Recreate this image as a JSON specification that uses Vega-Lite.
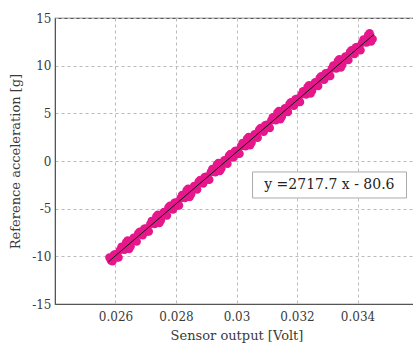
{
  "$schema": "https://vega.github.io/schema/vega-lite/v6.json",
  "width": 363,
  "height": 286,
  "autosize": {"type": "none"},
  "padding": {"left": 55, "top": 18, "right": 0, "bottom": 40},
  "background": "white",
  "config": {
    "view": {"stroke": "#555555", "strokeWidth": 1.2},
    "font": "DejaVu Serif",
    "axis": {
      "labelFont": "DejaVu Serif",
      "titleFont": "DejaVu Serif",
      "labelFontSize": 12,
      "titleFontSize": 13,
      "titleFontWeight": "normal",
      "labelColor": "#3a3a3a",
      "titleColor": "#3a3a3a",
      "domainColor": "#555555",
      "ticks": false,
      "gridColor": "#bbbbbb",
      "gridDash": [3, 3],
      "gridWidth": 1
    }
  },
  "datasets": {
    "pts": [
      {"v": 0.0258, "g": -10.13}, {"v": 0.0259, "g": -10.51}, {"v": 0.0260, "g": -9.79}, {"v": 0.0261, "g": -10.12},
      {"v": 0.0262, "g": -9.00}, {"v": 0.0263, "g": -9.32}, {"v": 0.0264, "g": -8.35}, {"v": 0.0265, "g": -8.93},
      {"v": 0.0266, "g": -8.06}, {"v": 0.0267, "g": -8.44}, {"v": 0.0268, "g": -7.42}, {"v": 0.0269, "g": -7.79},
      {"v": 0.0270, "g": -7.07}, {"v": 0.0271, "g": -7.40}, {"v": 0.0272, "g": -6.28}, {"v": 0.0273, "g": -6.61},
      {"v": 0.0274, "g": -5.64}, {"v": 0.0275, "g": -6.21}, {"v": 0.0276, "g": -5.34}, {"v": 0.0277, "g": -5.72},
      {"v": 0.0278, "g": -4.70}, {"v": 0.0279, "g": -5.08}, {"v": 0.0280, "g": -4.35}, {"v": 0.0281, "g": -4.68},
      {"v": 0.0282, "g": -3.56}, {"v": 0.0283, "g": -3.89}, {"v": 0.0284, "g": -2.92}, {"v": 0.0285, "g": -3.50},
      {"v": 0.0286, "g": -2.62}, {"v": 0.0287, "g": -3.00}, {"v": 0.0288, "g": -1.98}, {"v": 0.0289, "g": -2.36},
      {"v": 0.0290, "g": -1.64}, {"v": 0.0291, "g": -1.96}, {"v": 0.0292, "g": -0.84}, {"v": 0.0293, "g": -1.17},
      {"v": 0.0294, "g": -0.20}, {"v": 0.0295, "g": -0.78}, {"v": 0.0296, "g": 0.09}, {"v": 0.0297, "g": -0.28},
      {"v": 0.0298, "g": 0.74}, {"v": 0.0299, "g": 0.36}, {"v": 0.0300, "g": 1.08}, {"v": 0.0301, "g": 0.75},
      {"v": 0.0302, "g": 1.88}, {"v": 0.0303, "g": 1.55}, {"v": 0.0304, "g": 2.52}, {"v": 0.0305, "g": 1.94},
      {"v": 0.0306, "g": 2.81}, {"v": 0.0307, "g": 2.43}, {"v": 0.0308, "g": 3.46}, {"v": 0.0309, "g": 3.08},
      {"v": 0.0310, "g": 3.80}, {"v": 0.0311, "g": 3.47}, {"v": 0.0312, "g": 4.59}, {"v": 0.0313, "g": 4.27},
      {"v": 0.0314, "g": 5.24}, {"v": 0.0315, "g": 4.66}, {"v": 0.0316, "g": 5.53}, {"v": 0.0317, "g": 5.15},
      {"v": 0.0318, "g": 6.17}, {"v": 0.0319, "g": 5.80}, {"v": 0.0320, "g": 6.52}, {"v": 0.0321, "g": 6.19},
      {"v": 0.0322, "g": 7.31}, {"v": 0.0323, "g": 6.98}, {"v": 0.0324, "g": 7.95}, {"v": 0.0325, "g": 7.38},
      {"v": 0.0326, "g": 8.25}, {"v": 0.0327, "g": 7.87}, {"v": 0.0328, "g": 8.89}, {"v": 0.0329, "g": 8.51},
      {"v": 0.0330, "g": 9.24}, {"v": 0.0331, "g": 8.91}, {"v": 0.0332, "g": 10.03}, {"v": 0.0333, "g": 9.70},
      {"v": 0.0334, "g": 10.67}, {"v": 0.0335, "g": 10.09}, {"v": 0.0336, "g": 10.97}, {"v": 0.0337, "g": 10.59},
      {"v": 0.0338, "g": 11.61}, {"v": 0.0339, "g": 11.23}, {"v": 0.0340, "g": 11.95}, {"v": 0.0341, "g": 11.62},
      {"v": 0.0342, "g": 12.75}, {"v": 0.0343, "g": 12.42}, {"v": 0.0344, "g": 13.39}, {"v": 0.0345, "g": 12.81},
      {"v": 0.02585, "g": -10.45}, {"v": 0.02595, "g": -9.83}, {"v": 0.02605, "g": -10.10}, {"v": 0.02615, "g": -9.33},
      {"v": 0.02625, "g": -9.26}, {"v": 0.02635, "g": -8.54}, {"v": 0.02645, "g": -9.22}, {"v": 0.02655, "g": -8.35},
      {"v": 0.02665, "g": -8.37}, {"v": 0.02675, "g": -7.60}, {"v": 0.02685, "g": -7.73}, {"v": 0.02695, "g": -7.11},
      {"v": 0.02705, "g": -7.39}, {"v": 0.02715, "g": -6.61}, {"v": 0.02725, "g": -6.54}, {"v": 0.02735, "g": -5.82},
      {"v": 0.02745, "g": -6.50}, {"v": 0.02755, "g": -5.63}, {"v": 0.02765, "g": -5.66}, {"v": 0.02775, "g": -4.88},
      {"v": 0.02785, "g": -5.01}, {"v": 0.02795, "g": -4.39}, {"v": 0.02805, "g": -4.67}, {"v": 0.02815, "g": -3.90},
      {"v": 0.02825, "g": -3.82}, {"v": 0.02835, "g": -3.10}, {"v": 0.02845, "g": -3.78}, {"v": 0.02855, "g": -2.91},
      {"v": 0.02865, "g": -2.94}, {"v": 0.02875, "g": -2.17}, {"v": 0.02885, "g": -2.29}, {"v": 0.02895, "g": -1.67},
      {"v": 0.02905, "g": -1.95}, {"v": 0.02915, "g": -1.18}, {"v": 0.02925, "g": -1.11}, {"v": 0.02935, "g": -0.39},
      {"v": 0.02945, "g": -1.06}, {"v": 0.02955, "g": -0.19}, {"v": 0.02965, "g": -0.22}, {"v": 0.02975, "g": 0.55},
      {"v": 0.02985, "g": 0.42}, {"v": 0.02995, "g": 1.05}, {"v": 0.03005, "g": 0.77}, {"v": 0.03015, "g": 1.54},
      {"v": 0.03025, "g": 1.61}, {"v": 0.03035, "g": 2.33}, {"v": 0.03045, "g": 1.66}, {"v": 0.03055, "g": 2.53},
      {"v": 0.03065, "g": 2.50}, {"v": 0.03075, "g": 3.27}, {"v": 0.03085, "g": 3.14}, {"v": 0.03095, "g": 3.76},
      {"v": 0.03105, "g": 3.49}, {"v": 0.03115, "g": 4.26}, {"v": 0.03125, "g": 4.33}, {"v": 0.03135, "g": 5.05},
      {"v": 0.03145, "g": 4.37}, {"v": 0.03155, "g": 5.24}, {"v": 0.03165, "g": 5.22}, {"v": 0.03175, "g": 5.99},
      {"v": 0.03185, "g": 5.86}, {"v": 0.03195, "g": 6.48}, {"v": 0.03205, "g": 6.20}, {"v": 0.03215, "g": 6.98},
      {"v": 0.03225, "g": 7.05}, {"v": 0.03235, "g": 7.77}, {"v": 0.03245, "g": 7.09}, {"v": 0.03255, "g": 7.96},
      {"v": 0.03265, "g": 7.93}, {"v": 0.03275, "g": 8.71}, {"v": 0.03285, "g": 8.58}, {"v": 0.03295, "g": 9.20},
      {"v": 0.03305, "g": 8.92}, {"v": 0.03315, "g": 9.69}, {"v": 0.03325, "g": 9.76}, {"v": 0.03335, "g": 10.49},
      {"v": 0.03345, "g": 9.81}, {"v": 0.03355, "g": 10.68}, {"v": 0.03365, "g": 10.65}, {"v": 0.03375, "g": 11.42},
      {"v": 0.03385, "g": 11.30}, {"v": 0.03395, "g": 11.92}, {"v": 0.03405, "g": 11.64}, {"v": 0.03415, "g": 12.41},
      {"v": 0.03425, "g": 12.48}, {"v": 0.03435, "g": 13.20}, {"v": 0.03445, "g": 12.53}
    ],
    "fit": [
      {"v": 0.02577, "g": -10.56},
      {"v": 0.03456, "g": 13.32}
    ],
    "box": [
      {"x1": 0.03053, "x2": 0.03562, "y1": -1.15, "y2": -3.88, "xc": 0.03307, "yc": -2.52, "label": "y =2717.7 x - 80.6"}
    ]
  },
  "layer": [
    {
      "data": {"name": "pts"},
      "mark": {"type": "circle", "size": 72, "color": "#e6168b", "opacity": 1},
      "encoding": {
        "x": {
          "field": "v", "type": "quantitative",
          "scale": {"domain": [0.024, 0.036], "nice": false, "zero": false},
          "axis": {"values": [0.026, 0.028, 0.03, 0.032, 0.034], "labelExpr": "datum.value + ''", "title": "Sensor output [Volt]", "titlePadding": 7, "labelPadding": 7}
        },
        "y": {
          "field": "g", "type": "quantitative",
          "scale": {"domain": [-15, 15], "nice": false, "zero": false},
          "axis": {"values": [-15, -10, -5, 0, 5, 10, 15], "labelExpr": "datum.value + ''", "title": "Reference acceleration [g]", "titlePadding": 9, "labelPadding": 4}
        }
      }
    },
    {
      "data": {"name": "fit"},
      "mark": {"type": "line", "color": "#111111", "strokeWidth": 1},
      "encoding": {
        "x": {"field": "v", "type": "quantitative"},
        "y": {"field": "g", "type": "quantitative"}
      }
    },
    {
      "data": {"name": "box"},
      "mark": {"type": "rect", "fill": "white", "stroke": "#aaaaaa", "strokeWidth": 1},
      "encoding": {
        "x": {"field": "x1", "type": "quantitative"},
        "x2": {"field": "x2"},
        "y": {"field": "y1", "type": "quantitative"},
        "y2": {"field": "y2"}
      }
    },
    {
      "data": {"name": "box"},
      "mark": {"type": "text", "font": "DejaVu Serif", "fontSize": 14, "color": "#222222", "align": "center", "baseline": "middle"},
      "encoding": {
        "x": {"field": "xc", "type": "quantitative"},
        "y": {"field": "yc", "type": "quantitative"},
        "text": {"field": "label"}
      }
    }
  ]
}
